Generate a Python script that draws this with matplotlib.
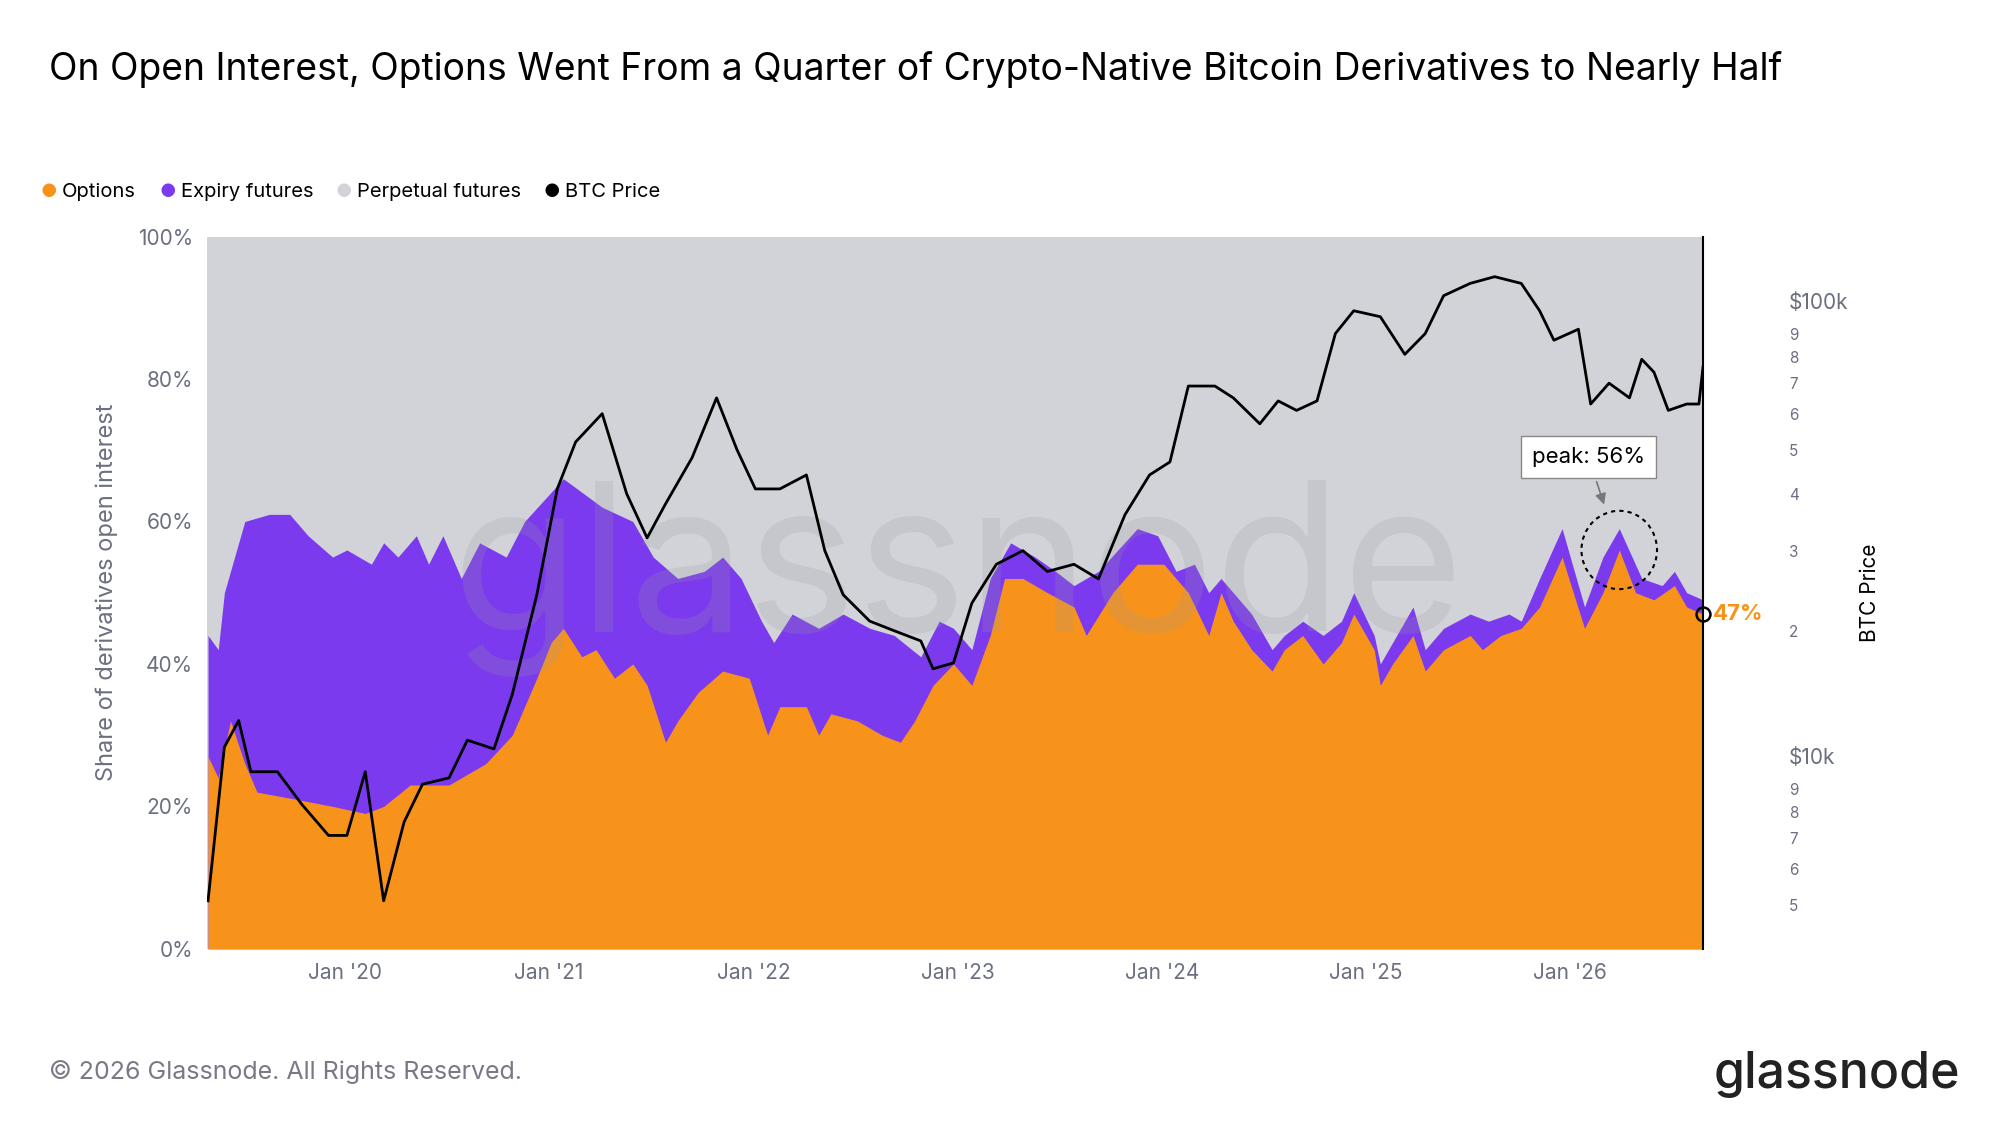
import matplotlib
matplotlib.use("Agg")
import matplotlib.pyplot as plt
import numpy as np
from matplotlib.patches import Ellipse
from matplotlib.ticker import FixedLocator, FuncFormatter

plt.rcParams['font.family'] = ['Inter', 'DejaVu Sans']

# ---- data (decimal years) ----
opt_t = [2019.33,2019.38,2019.44,2019.51,2019.57,2019.76,2019.94,2020.10,2020.19,2020.32,2020.51,2020.69,2020.82,2020.94,
         2021.01,2021.07,2021.16,2021.23,2021.32,2021.41,2021.48,2021.57,2021.63,2021.73,2021.85,2021.98,2022.07,2022.13,
         2022.26,2022.32,2022.38,2022.51,2022.63,2022.72,2022.79,2022.88,2022.98,2023.07,2023.16,2023.23,2023.32,2023.44,
         2023.57,2023.63,2023.76,2023.88,2024.01,2024.13,2024.23,2024.29,2024.35,2024.44,2024.54,2024.60,2024.69,2024.79,
         2024.88,2024.94,2025.04,2025.07,2025.13,2025.23,2025.29,2025.38,2025.51,2025.57,2025.66,2025.76,2025.85,2025.96,
         2026.07,2026.16,2026.24,2026.32,2026.41,2026.51,2026.57,2026.65]
opt_v = [27,24,32,26,22,21,20,19,20,23,23,26,30,38,43,45,41,42,38,40,37,29,32,36,39,38,30,34,34,30,33,32,30,29,32,37,40,
         37,44,52,52,50,48,44,50,54,54,50,44,50,46,42,39,42,44,40,43,47,42,37,40,44,39,42,44,42,44,45,48,55,45,50,56,50,
         49,51,48,47]
exp_t = [2019.33,2019.38,2019.41,2019.51,2019.63,2019.73,2019.82,2019.94,2020.01,2020.13,2020.19,2020.26,2020.35,2020.41,
         2020.48,2020.57,2020.66,2020.79,2020.88,2021.07,2021.26,2021.41,2021.51,2021.63,2021.76,2021.85,2021.94,2022.04,
         2022.10,2022.19,2022.32,2022.44,2022.57,2022.69,2022.82,2022.91,2022.98,2023.07,2023.16,2023.26,2023.38,2023.48,
         2023.57,2023.69,2023.88,2023.98,2024.07,2024.16,2024.23,2024.29,2024.35,2024.44,2024.54,2024.60,2024.69,2024.79,
         2024.88,2024.94,2025.04,2025.07,2025.13,2025.23,2025.29,2025.38,2025.51,2025.60,2025.70,2025.76,2025.85,2025.96,
         2026.07,2026.16,2026.24,2026.35,2026.45,2026.51,2026.57,2026.65]
opt_exp_v = [44,42,50,60,61,61,58,55,56,54,57,55,58,54,58,52,57,55,60,66,62,60,55,52,53,55,52,46,43,47,45,47,45,44,41,
             46,45,42,52,57,55,53,51,53,59,58,53,54,50,52,50,47,42,44,46,44,46,50,44,40,43,48,42,45,47,46,47,46,52,59,48,
             55,59,52,51,53,50,49]
btc_t = [2019.33,2019.41,2019.48,2019.54,2019.67,2019.79,2019.92,2020.01,2020.10,2020.19,2020.29,2020.38,2020.51,2020.60,
         2020.73,2020.82,2020.94,2021.04,2021.13,2021.26,2021.38,2021.48,2021.57,2021.70,2021.82,2021.92,2022.01,2022.13,
         2022.26,2022.35,2022.44,2022.57,2022.69,2022.82,2022.88,2022.98,2023.07,2023.19,2023.32,2023.44,2023.57,2023.69,
         2023.82,2023.94,2024.04,2024.13,2024.26,2024.35,2024.48,2024.57,2024.66,2024.76,2024.85,2024.94,2025.07,2025.19,
         2025.29,2025.38,2025.51,2025.63,2025.76,2025.85,2025.92,2026.04,2026.10,2026.19,2026.29,2026.35,2026.41,2026.48,
         2026.57,2026.63,2026.65]
btc_v = [5100,11100,12700,9800,9800,8300,7100,7100,9800,5100,7600,9200,9500,11500,11000,14500,24000,41000,52000,60000,
         40000,32000,38000,48000,65000,50000,41000,41000,44000,30000,24000,21000,20000,19000,16500,17000,23000,28000,
         30000,27000,28000,26000,36000,44000,47000,69000,69000,65000,57000,64000,61000,64000,90000,101000,98000,81000,
         90000,109000,116000,120000,116000,101000,87000,92000,63000,70000,65000,79000,74000,61000,63000,63000,76000]

ORANGE = '#f7931a'
PURPLE = '#7b3aed'
GREY = '#d1d3d9'

fig = plt.figure(figsize=(20, 11.25), dpi=100)
ax = fig.add_axes([0.1035, 0.1566, 0.748, 0.6331])
x0, x1 = 2019.325, 2026.65
ax.set_xlim(x0, x1)
ax.set_ylim(0, 100)
ax.set_facecolor('white')
ax.fill_between([x0, x1], 0, 100, color=GREY, lw=0, zorder=0)
ax.fill_between(exp_t, 0, opt_exp_v, color=PURPLE, lw=0, zorder=1)
ax.fill_between(opt_t, 0, opt_v, color=ORANGE, lw=0, zorder=2)
ax.text(2023.0, 52, 'glassnode', fontsize=150, color='#9a9aa0', alpha=0.2, ha='center', va='center', zorder=3)

for s in ['top', 'left', 'bottom', 'right']:
    ax.spines[s].set_visible(False)
ax.set_xticks([2020, 2021, 2022, 2023, 2024, 2025, 2026])
ax.set_xticklabels(["Jan '20", "Jan '21", "Jan '22", "Jan '23", "Jan '24", "Jan '25", "Jan '26"])
ax.set_yticks([0, 20, 40, 60, 80, 100])
ax.set_yticklabels(['0%', '20%', '40%', '60%', '80%', '100%'])
ax.tick_params(axis='both', length=0, labelsize=15, colors='#6b6f80', pad=10)
ax.set_ylabel('Share of derivatives open interest', fontsize=17, color='#6b6f80', labelpad=14)

ax2 = ax.twinx()
ax2.set_yscale('log')
ax2.set_ylim(4000, 147000)
ax2.set_xlim(x0, x1)
ax2.plot(btc_t, btc_v, color='black', lw=2, zorder=5)
for s in ['top', 'left', 'bottom']:
    ax2.spines[s].set_visible(False)
ax2.spines['right'].set_color('black')
ax2.spines['right'].set_linewidth(1.5)
ax2.yaxis.set_major_locator(FixedLocator([10000, 100000]))
ax2.yaxis.set_major_formatter(FuncFormatter(lambda v, p: '$10k' if v < 50000 else '$100k'))
minors = [5000, 6000, 7000, 8000, 9000, 20000, 30000, 40000, 50000, 60000, 70000, 80000, 90000]
ax2.yaxis.set_minor_locator(FixedLocator(minors))
ax2.yaxis.set_minor_formatter(FuncFormatter(lambda v, p: str(int(round(v / (10000 if v >= 10000 else 1000))))))
ax2.tick_params(axis='y', which='major', length=0, labelsize=15, colors='#6b6f80', pad=62)
ax2.tick_params(axis='y', which='minor', length=0, labelsize=11, colors='#6b6f80', pad=62)
ax2.set_ylabel('BTC Price', fontsize=15, color='black', labelpad=8)
for lab in ax2.get_yticklabels():
    lab.set_verticalalignment('bottom')

# end marker
ax.plot([opt_t[-1]], [opt_v[-1]], marker='o', ms=10, mfc='none', mec='black', mew=1.8, zorder=6, clip_on=False)
ax.text(opt_t[-1] + 0.05, opt_v[-1], f'{opt_v[-1]}%', color=ORANGE, fontsize=16, fontweight='bold', va='center')

# peak annotation
pk = int(np.argmax(opt_v))
ax.add_patch(Ellipse((opt_t[pk], 56), 0.37, 11, fill=False, ls=(0, (2, 2)), lw=1.5, color='black', zorder=6))
ax.annotate(f'peak: {opt_v[pk]}%', xy=(opt_t[pk] - 0.07, 62), xytext=(opt_t[pk] - 0.15, 69),
            fontsize=16, ha='center', va='center',
            bbox=dict(boxstyle='square,pad=0.5', fc='white', ec='#888888', lw=1),
            arrowprops=dict(arrowstyle='-|>', color='#777777', lw=1.2), zorder=7)

fig.text(0.0244, 0.938, 'On Open Interest, Options Went From a Quarter of Crypto-Native Bitcoin Derivatives to Nearly Half',
         fontsize=26.8, va='center', ha='left', color='black')

# legend
lx, ly = 0.0205, 0.829
items = [('Options', ORANGE), ('Expiry futures', PURPLE), ('Perpetual futures', GREY), ('BTC Price', 'black')]
offs = [0, 0.0595, 0.1475, 0.2515]
for (lab, c), o in zip(items, offs):
    fig.text(lx + o, ly, '\u25CF', color=c, fontsize=13, va='center', ha='left')
    fig.text(lx + o + 0.0105, ly, lab, color='black', fontsize=14.5, va='center', ha='left')

fig.text(0.0244, 0.047, '\u00a9 2026 Glassnode. All Rights Reserved.', fontsize=18, color='#777a86', va='center')
fig.text(0.98, 0.045, 'glassnode', fontsize=36, color='#222222', va='center', ha='right', fontweight='medium')

fig.savefig('out.png', dpi=100)
